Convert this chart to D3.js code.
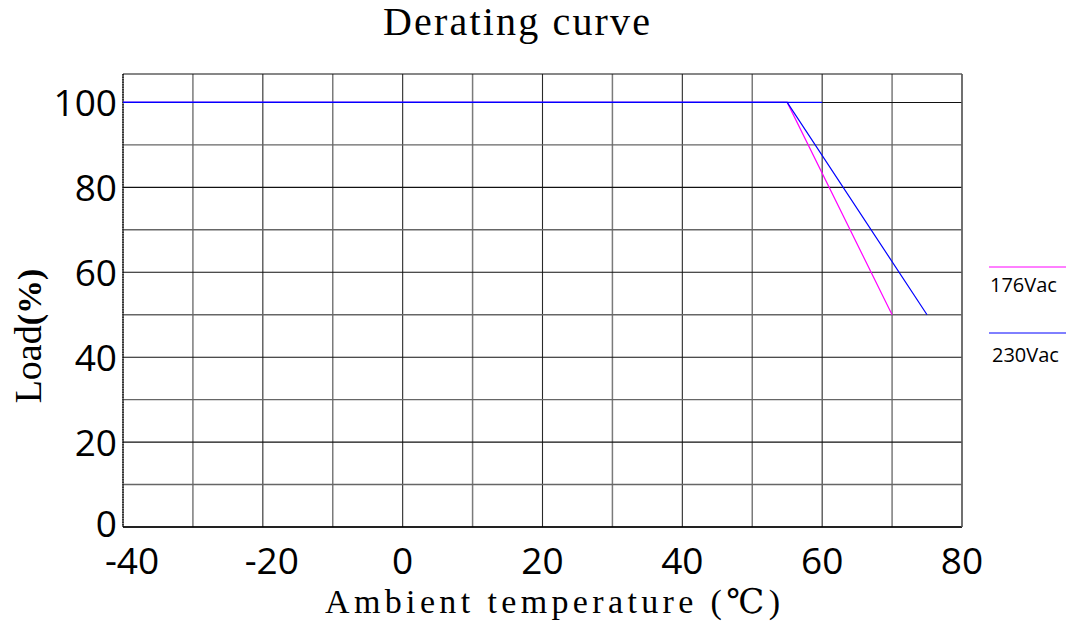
<!DOCTYPE html>
<html>
<head>
<meta charset="utf-8">
<script src="https://cdn.jsdelivr.net/npm/d3@7"></script>
<style>
  body { margin: 0; background: #fff; }
  svg { display: block; }
</style>
</head>
<body>
<svg id="chart" width="1075" height="643"></svg>
<script>
// ---- data ----
const seriesNames = ["176Vac", "230Vac"];
const seriesColors = ["#ff00ff", "#0000ff"];
const temps176 = [-40, 55, 70];
const load176  = [100, 100, 50];
const temps230 = [-40, 55, 75];
const load230  = [100, 100, 50];
const ratedTemps = [-40, 60];      // blue flat 100% segment
const ratedLoad  = [100, 100];
const xTicks = [-40, -20, 0, 20, 40, 60, 80];
const yTicks = [0, 20, 40, 60, 80, 100];
const xGrid = d3.range(-40, 81, 10);
const yGrid = d3.range(0, 101, 10);
const titleText = "Derating curve";
const xTitle = "Ambient temperature (℃)";
const yTitle = "Load";

// ---- layout ----
(function () {
const svg = d3.select("#chart");
const pL = 123, pR = 962, pT = 74, pB = 527;
const yMax = 106.7;
const x = d3.scaleLinear().domain([-40, 80]).range([pL, pR]);
const y = d3.scaleLinear().domain([0, yMax]).range([pB, pT]);

// grid
const g = svg.append("g");
g.selectAll("line.v").data(xGrid).enter().append("line")
  .attr("x1", d => x(d)).attr("x2", d => x(d))
  .attr("y1", pT).attr("y2", pB)
  .attr("stroke", (d, i) => i % 2 ? "#7a7a7a" : "#2a2a2a")
  .attr("stroke-width", (d, i) => i % 2 ? 1.5 : 1.1);
g.selectAll("line.h").data(yGrid).enter().append("line")
  .attr("x1", pL).attr("x2", pR)
  .attr("y1", d => y(d)).attr("y2", d => y(d))
  .attr("stroke", d => d % 20 === 0 ? "#111" : "#666")
  .attr("stroke-width", d => d % 20 === 0 ? 1.1 : 1.4);
// frame
g.append("line").attr("x1", pL).attr("x2", pR).attr("y1", pT).attr("y2", pT)
  .attr("stroke", "#111").attr("stroke-width", 1.2);
g.append("line").attr("x1", pL).attr("x2", pR).attr("y1", pB).attr("y2", pB)
  .attr("stroke", "#000").attr("stroke-width", 1.5);
g.append("line").attr("x1", pR).attr("x2", pR).attr("y1", pT).attr("y2", pB)
  .attr("stroke", "#666").attr("stroke-width", 1.4);
g.append("line").attr("x1", pL).attr("x2", pL).attr("y1", pT).attr("y2", pB)
  .attr("stroke", "#000").attr("stroke-width", 1.2).attr("stroke-dasharray", "1.5,1");

// lines
const line = d3.line().x(d => x(d[0])).y(d => y(d[1]));
const series = [
  { pts: d3.zip(temps176, load176), color: seriesColors[0] },
  { pts: d3.zip(temps230, load230), color: seriesColors[1] },
  { pts: d3.zip(ratedTemps, ratedLoad), color: seriesColors[1] }
];
svg.selectAll("path.s").data(series).enter().append("path")
  .attr("d", d => line(d.pts))
  .attr("fill", "none")
  .attr("stroke", d => d.color)
  .attr("stroke-width", 1.2);

// tick labels
const tickFont = "'Open Sans', 'Noto Sans', sans-serif";
svg.selectAll("text.xt").data(xTicks).enter().append("text")
  .attr("x", d => x(d) + (d < 0 ? 9 : 0))
  .attr("y", 574)
  .attr("text-anchor", "middle")
  .attr("font-family", tickFont).attr("font-size", 37)
  .text(d => d);
svg.selectAll("text.yt").data(yTicks).enter().append("text")
  .attr("x", 117)
  .attr("y", d => y(d) + (d === 0 ? 10 : 14))
  .attr("text-anchor", "end")
  .attr("font-family", tickFont).attr("font-size", 37)
  .text(d => d);

// titles
const serifFont = "'Liberation Serif', 'DejaVu Serif', serif";
svg.append("text")
  .attr("x", 516.5).attr("y", 35)
  .attr("text-anchor", "middle")
  .attr("font-family", serifFont).attr("font-size", 40)
  .attr("textLength", 267).attr("lengthAdjust", "spacing")
  .text(titleText);
svg.append("text")
  .attr("x", 552.5).attr("y", 613)
  .attr("text-anchor", "middle")
  .attr("font-family", serifFont).attr("font-size", 34)
  .attr("textLength", 455).attr("lengthAdjust", "spacing")
  .text(xTitle);
const yt = svg.append("text")
  .attr("transform", "translate(41,336) rotate(-90)")
  .attr("text-anchor", "middle")
  .attr("font-family", serifFont).attr("font-size", 38);
yt.append("tspan").text(yTitle);
yt.append("tspan").attr("font-weight", "bold").attr("font-size", 34).text("(%)");

// legend
const legendY = [267, 333];
const legend = svg.selectAll("g.lg").data(seriesNames).enter().append("g");
legend.append("line")
  .attr("x1", 989).attr("x2", 1066)
  .attr("y1", (d, i) => legendY[i]).attr("y2", (d, i) => legendY[i])
  .attr("stroke", (d, i) => seriesColors[i]).attr("stroke-width", 1);
legend.append("text")
  .attr("x", (d, i) => 990 + i * 2)
  .attr("y", (d, i) => legendY[i] + 25 + i * 4)
  .attr("font-family", tickFont).attr("font-size", 20)
  .text(d => d);
})();
</script>
</body>
</html>
